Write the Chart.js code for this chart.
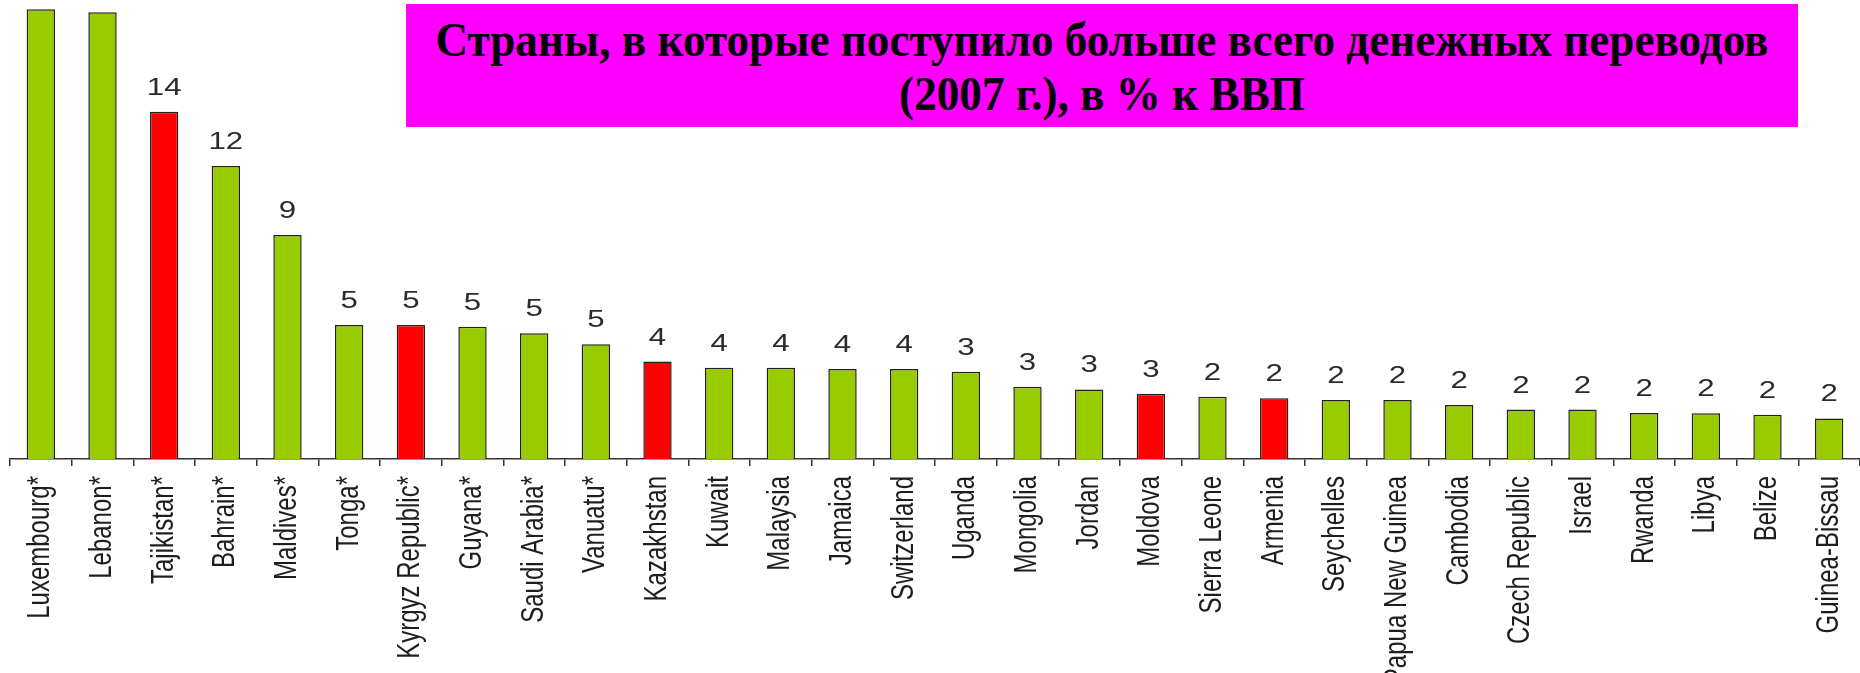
<!DOCTYPE html>
<html>
<head>
<meta charset="utf-8">
<script src="https://cdn.jsdelivr.net/npm/chart.js@4"></script>
<style>
  html, body { margin: 0; padding: 0; background: #fff; }
  #wrap { position: relative; width: 1860px; height: 673px; overflow: hidden; }
  #title {
    position: absolute; left: 406px; top: 4px; width: 1392px; height: 123px;
    background: #ff00ff; z-index: 2;
  }
  #title div {
    position: absolute; left: 50%; white-space: nowrap;
    font: bold 48px "Liberation Serif", "Times New Roman", serif; line-height: 48px; color: #000;
    transform-origin: 50% 50%;
  }
</style>
</head>
<body>
<div id="wrap">
  <canvas id="remitChart" width="1860" height="673"></canvas>
  <div id="title">
    <div id="t1" style="top:12px">Страны, в которые поступило больше всего денежных переводов</div>
    <div id="t2" style="top:66px">(2007 г.), в % к ВВП</div>
  </div>
</div>
<script>
const countries = ['Luxembourg*', 'Lebanon*', 'Tajikistan*', 'Bahrain*', 'Maldives*', 'Tonga*',
  'Kyrgyz Republic*', 'Guyana*', 'Saudi Arabia*', 'Vanuatu*', 'Kazakhstan', 'Kuwait', 'Malaysia',
  'Jamaica', 'Switzerland', 'Uganda', 'Mongolia', 'Jordan', 'Moldova', 'Sierra Leone', 'Armenia',
  'Seychelles', 'Papua New Guinea', 'Cambodia', 'Czech Republic', 'Israel', 'Rwanda', 'Libya',
  'Belize', 'Guinea-Bissau'];

// bar heights
const shares = [18.28, 18.16, 14.12, 11.91, 9.11, 5.45, 5.45, 5.38, 5.11, 4.67, 3.96, 3.71, 3.71,
  3.66, 3.66, 3.55, 2.94, 2.83, 2.64, 2.53, 2.47, 2.40, 2.40, 2.20, 2.01, 2.01, 1.87, 1.86, 1.80, 1.65];

// value labels as printed (the first two sit above the visible area)
const valueLabels = ['', '', '14', '12', '9', '5', '5', '5', '5', '5', '4', '4', '4', '4', '4', '3',
  '3', '3', '3', '2', '2', '2', '2', '2', '2', '2', '2', '2', '2', '2'];

const highlighted = ['Tajikistan*', 'Kyrgyz Republic*', 'Kazakhstan', 'Moldova', 'Armenia'];

// fit the title lines to the box width
const t1 = document.getElementById('t1');
const t2 = document.getElementById('t2');
const sx = 1333 / t1.getBoundingClientRect().width;
t1.style.transform = `translateX(-50%) scaleX(${sx})`;
t2.style.transform = `translateX(-50%) scaleX(${sx})`;

const labelFont = '"Liberation Sans", Arial, sans-serif';

// value labels over the bars, and the rotated country names (drawn a bit wide, like the original)
const textPlugin = {
  id: 'texts',
  afterDatasetsDraw(chart) {
    const ctx = chart.ctx;
    const meta = chart.getDatasetMeta(0);
    const xScale = chart.scales.x;
    ctx.save();
    ctx.fillStyle = '#2b2b2b';
    ctx.font = '24px ' + labelFont;
    ctx.textAlign = 'center';
    ctx.textBaseline = 'alphabetic';
    meta.data.forEach((bar, i) => {
      if (!valueLabels[i]) return;
      ctx.save();
      ctx.translate(bar.x, bar.y - 17);
      ctx.scale(1.3, 1);
      ctx.fillText(valueLabels[i], 0, 0);
      ctx.restore();
    });

    ctx.fillStyle = '#1e1e1e';
    ctx.font = '24px ' + labelFont;
    ctx.textAlign = 'right';
    ctx.textBaseline = 'middle';
    countries.forEach((name, i) => {
      ctx.save();
      ctx.translate(xScale.getPixelForValue(i), xScale.top + 17);
      ctx.rotate(-Math.PI / 2);
      ctx.scale(1, 1.3);
      ctx.fillText(name, 0, 0);
      ctx.restore();
    });
    ctx.restore();
  }
};

const ctx = document.getElementById('remitChart').getContext('2d');
new Chart(ctx, {
  type: 'bar',
  data: {
    labels: countries,
    datasets: [{
      data: shares,
      backgroundColor: countries.map(c => highlighted.includes(c) ? '#ff0000' : '#99cc00'),
      borderColor: '#222',
      borderWidth: 1.5,
      barPercentage: 0.46,
      categoryPercentage: 1
    }]
  },
  options: {
    responsive: false,
    animation: false,
    layout: { padding: { left: 10, right: 0, top: 0, bottom: 0 } },
    plugins: { legend: { display: false }, tooltip: { enabled: false } },
    scales: {
      x: {
        offset: true,
        afterFit: scale => { scale.height = 214; },
        grid: { display: true, drawOnChartArea: false, drawTicks: true, tickLength: 7, color: '#333', lineWidth: 1.5, offset: true },
        border: { display: true, color: '#333', width: 1.5 },
        ticks: { display: false, autoSkip: false }
      },
      y: { display: false, min: 0, max: 18.66 }
    }
  },
  plugins: [textPlugin]
});
</script>
</body>
</html>
